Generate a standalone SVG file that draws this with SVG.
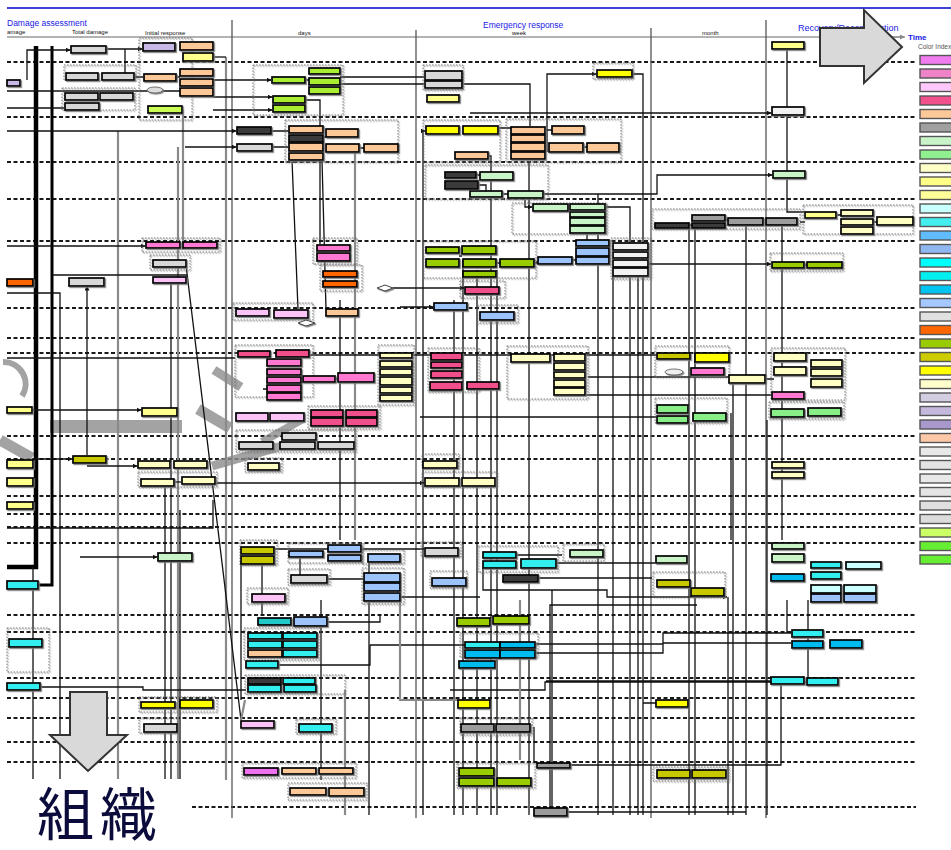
<svg xmlns="http://www.w3.org/2000/svg" width="951" height="850" viewBox="0 0 951 850">
<defs>
<style>
.lane{fill:none;stroke:#1a1a1a;stroke-width:1.8;stroke-dasharray:4 2.5}
.col{stroke:#555;stroke-width:1.3}
.c{fill:none;stroke:#111;stroke-width:1.3}
.g{fill:none;stroke:#8a8a8a;stroke-width:2.2}
.grp{fill:none;stroke:#666;stroke-width:0.9;stroke-dasharray:1.5 1.5}
.nodes rect{stroke:#000;stroke-width:1.7}
.nodes rect.grp{stroke:#666;stroke-width:0.9}
.leg rect{stroke:#555;stroke-width:1.4}
.pk{fill:#ff78d2}.hp{fill:#f0508c}.lp{fill:#fcc4f6}.vi{fill:#ee72ee}
.pc{fill:#fcc898}.ly{fill:#ffff8c}.yl{fill:#ffff00}.cr{fill:#ffffc4}
.oy{fill:#c8c800}.og{fill:#99cc00}.lg{fill:#c8f4c8}.gr{fill:#88ee88}
.lm{fill:#ccff55}.lb{fill:#9cc4fa}.cy{fill:#33eeee}.ds{fill:#00bbee}
.lc{fill:#ccffff}.gy{fill:#d8d8d8}.dg{fill:#9c9c9c}.lv{fill:#c8b8e8}
.or{fill:#ff6600}.dk{fill:#3a3a3a}.wh{fill:#f2f2f2}.gn{fill:#aaee33}
.hd{font-family:"Liberation Sans",Arial,sans-serif;fill:#1a1ae6}
.sub{font-family:"Liberation Sans",Arial,sans-serif;font-size:6px;fill:#111}
.shade{fill:none;stroke:#8c8c8c;stroke-opacity:0.8;stroke-linecap:butt}
</style>
<marker id="ah" markerWidth="5" markerHeight="5" refX="4.5" refY="2.5" orient="auto" markerUnits="userSpaceOnUse">
<path d="M0,0 L5,2.5 L0,5z" fill="#111"/>
</marker>
<filter id="sh" x="-10%" y="-10%" width="130%" height="160%">
<feDropShadow dx="1.2" dy="1.2" stdDeviation="0.3" flood-color="#777" flood-opacity="0.9"/>
</filter>
</defs>
<rect width="951" height="850" fill="#fff"/>

<!-- header -->
<g id="header">
<line x1="7" y1="8" x2="951" y2="8" stroke="#0000cc" stroke-width="1.5"/>
<text class="hd" x="7" y="26" font-size="8.5">Damage assessment</text>
<text class="hd" x="483" y="28" font-size="8.5">Emergency response</text>
<text class="hd" x="798" y="31" font-size="9">Recovery/Reconstruction</text>
<text class="sub" x="7" y="34">amage</text>
<text class="sub" x="72" y="34">Total damage</text>
<text class="sub" x="145" y="35">Initial response</text>
<text class="sub" x="298" y="35">days</text>
<text class="sub" x="512" y="35">week</text>
<text class="sub" x="702" y="35">month</text>
<line x1="7" y1="37" x2="905" y2="37" stroke="#666" stroke-width="1"/>
</g>

<!-- swimlanes -->
<g id="lanes">
<path class="lane" d="M7,62H916M7,117H916M7,162H916M7,199H916M7,241H916M7,308H916M7,338H916M7,353H916M7,436H916M7,459H916M7,496H916M7,514H916M7,527H916M7,543H916M7,615H916M7,632H916M7,678H916M7,698H916M7,718H916M7,742H916M7,762H916M192,807H916"/>
</g>

<!-- period columns -->
<g id="columns">
<line class="col" x1="232" y1="20" x2="232" y2="818"/>
<line class="col" x1="416" y1="30" x2="416" y2="818"/>
<line class="col" x1="651" y1="28" x2="651" y2="818"/>
<line class="col" x1="766" y1="20" x2="766" y2="818"/>
</g>

<!-- faded background loop -->
<g id="backdrop">
<path class="shade" d="M3,362 A22,22 0 0 1 22,396" stroke-width="6" stroke="#b4b4b4"/>
<path class="shade" d="M0,440 L32,458" stroke-width="11"/>
<rect x="50" y="420" width="132" height="13" fill="#8c8c8c" fill-opacity="0.8"/>
<path class="shade" d="M198,409 L230,428" stroke-width="11"/>
<path class="shade" d="M214,370 L241,387" stroke-width="9"/>
<path class="shade" d="M212,466 L282,446" stroke-width="9"/>
<path class="shade" d="M262,442 L303,419" stroke-width="8"/>
</g>

<!-- connectors -->
<g id="connectors">
<path d="M36,46V567H7" fill="none" stroke="#000" stroke-width="4.5"/>
<path d="M52,46V585H38" fill="none" stroke="#000" stroke-width="3"/>
<path class="g" d="M118,131V780M183,110V250M226,57V780M178,147V780M355,150V540"/>
<path class="c" marker-end="url(#ah)" d="M27,80V50H70"/>
<path class="c" marker-end="url(#ah)" d="M106,49H142"/>
<path class="c" d="M125,49V77H134M134,77H143M176,77H180M7,91H180M7,108H64"/>
<path class="c" d="M213,57H226"/>
<path class="c" marker-end="url(#ah)" d="M213,80H271"/>
<path class="c" marker-end="url(#ah)" d="M213,97H272"/>
<path class="c" marker-end="url(#ah)" d="M213,110H272"/>
<path class="c" d="M305,80H309M340,77H424M340,84H424" stroke-width="1.8"/>
<path class="c" d="M305,100H320V244"/>
<path class="c" d="M462,84H530V126"/>
<path class="c" marker-end="url(#ah)" d="M547,152V74H596"/>
<path class="c" d="M632,74H643V815"/>
<path class="c" marker-end="url(#ah)" d="M470,113H771"/>
<path class="c" d="M787,49V107M787,115V212H804"/>
<path class="c" marker-end="url(#ah)" d="M7,131H236"/>
<path class="c" marker-end="url(#ah)" d="M185,147H236"/>
<path class="c" d="M271,131H288M272,147H288M323,137H326M359,148H364"/>
<path class="c" marker-end="url(#ah)" d="M423,815V131H425"/>
<path class="c" d="M488,156H491V815"/>
<path class="c" d="M498,128H511M545,130H552M583,147H587"/>
<path class="c" d="M476,175H480M478,185H486V191M502,194H508"/>
<path class="c" marker-end="url(#ah)" d="M543,194H657V175H772"/>
<path class="c" d="M598,194V204"/>
<path class="c" marker-end="url(#ah)" d="M525,194V207H532"/>
<path class="c" d="M529,162V815"/>
<path class="c" d="M605,207H630V815"/>
<path class="c" d="M587,233V240"/>
<path class="c" d="M536,262H538M572,260H576M459,256H462M496,263H500M534,263H538"/>
<path class="c" marker-end="url(#ah)" d="M648,264H771"/>
<path class="c" d="M804,265H807"/>
<path class="c" marker-end="url(#ah)" d="M393,288H464"/>
<path class="c" marker-end="url(#ah)" d="M400,307H433"/>
<path class="c" d="M689,228V815M746,225V815M782,225V540M695,228V815"/>
<path class="c" d="M800,222H805M836,215H841M873,222H877M725,220H728M689,225H692"/>
<path class="c" marker-end="url(#ah)" d="M7,246H145"/>
<path class="c" d="M52,275H187M7,293H60V780"/>
<path class="c" marker-end="url(#ah)" d="M87,455V286"/>
<path class="c" d="M171,283V780"/>
<path class="c" d="M186,265L241,720M292,160L298,309M322,160L326,309"/>
<path class="c" d="M7,358H235"/>
<path class="c" marker-end="url(#ah)" d="M32,410H141"/>
<path class="c" marker-end="url(#ah)" d="M32,459H72"/>
<path class="c" marker-end="url(#ah)" d="M87,466H137"/>
<path class="c" d="M174,482H181"/>
<path class="c" marker-end="url(#ah)" d="M215,483H424"/>
<path class="c" d="M309,355H657M588,377H728M765,379H774M586,395H771M420,417H656M731,413V540"/>
<path class="c" d="M7,528H213V500M33,567V780M165,487V780M180,510V780"/>
<path class="c" d="M263,389H267M301,379H303M335,379H338"/>
<path class="c" marker-end="url(#ah)" d="M80,557H157"/>
<path class="c" d="M274,549H424" stroke-width="2"/>
<path class="c" d="M327,579H363M400,597H480"/>
<path class="c" marker-end="url(#ah)" d="M483,568V590H607V597H727"/>
<path class="c" d="M516,555H562M556,563H655M538,578H652"/>
<path class="c" d="M370,645V665H278M370,645H466M380,615V622H327"/>
<path class="c" d="M40,687H143V690H246"/>
<path class="c" d="M535,644H663V633H791M535,653H663V643H791M787,600V633"/>
<path class="c" d="M550,815V605H697M450,690H545V682H806M546,681H770M570,765H781V684M567,812H746M534,727V763M643,703H656"/>
<path class="c" d="M369,560V815M454,300V815M463,260V815M477,270V815M497,270V815M552,590V815M598,234V815M613,276V815M638,250V815M728,597V815M733,380V815M767,420V815M808,600V680"/>
<path class="c" d="M241,562V700M262,560V615M300,557V575M321,600V780M340,300V540"/>
<path class="g" d="M245,700L241,720M345,690V815M400,600V700H458M520,600V760"/>
</g>

<!-- nodes -->
<g class="nodes" filter="url(#sh)">
<g id="n-top-left">
<rect class="gy" x="71" y="46" width="35" height="7"/>
<rect class="lv" x="7" y="80" width="13" height="6"/>
<rect class="grp" x="64" y="65" width="72" height="15"/>
<rect class="gy" x="66" y="73" width="32" height="7"/>
<rect class="gy" x="102" y="73" width="32" height="7"/>
<rect class="grp" x="62" y="88" width="73" height="22"/>
<rect class="gy" x="65" y="93" width="33" height="7"/>
<rect class="gy" x="100" y="93" width="33" height="7"/>
<rect class="gy" x="65" y="103" width="34" height="7"/>
</g>
<g id="n-initial">
<rect class="grp" x="139" y="38" width="53" height="82"/>
<rect class="lv" x="143" y="43" width="32" height="8"/>
<rect class="pc" x="180" y="42" width="33" height="8"/>
<rect class="ly" x="183" y="53" width="30" height="8"/>
<rect class="pc" x="144" y="74" width="32" height="7"/>
<rect class="pc" x="180" y="69" width="33" height="7"/>
<rect class="pc" x="180" y="79" width="33" height="7"/>
<rect class="pc" x="180" y="88" width="33" height="8"/>
<ellipse cx="155" cy="90" rx="8" ry="3" fill="#ddd" stroke="#555" stroke-width="0.8"/>
<rect class="lm" x="148" y="106" width="34" height="7"/>
</g>
<g id="n-days-top">
<rect class="grp" x="253" y="65" width="90" height="50"/>
<rect class="gn" x="272" y="77" width="33" height="6"/>
<rect class="gn" x="309" y="68" width="31" height="6"/>
<rect class="gn" x="309" y="78" width="31" height="7"/>
<rect class="gn" x="309" y="87" width="31" height="7"/>
<rect class="gn" x="273" y="96" width="32" height="7"/>
<rect class="gn" x="273" y="105" width="32" height="7"/>
</g>
<g id="n-week-top">
<rect class="grp" x="423" y="65" width="40" height="25"/>
<rect class="gy" x="425" y="71" width="37" height="9"/>
<rect class="gy" x="425" y="81" width="37" height="7"/>
<rect class="ly" x="427" y="95" width="32" height="7"/>
<rect class="grp" x="593" y="63" width="40" height="16"/>
<rect class="yl" x="597" y="70" width="35" height="7"/>
<rect class="ly" x="772" y="42" width="32" height="7"/>
<rect class="wh" x="772" y="107" width="32" height="8"/>
</g>
<g id="n-lane2">
<rect class="dk" x="237" y="127" width="34" height="7"/>
<rect class="gy" x="237" y="144" width="35" height="7"/>
<rect class="grp" x="285" y="120" width="113" height="42"/>
<rect class="pc" x="289" y="126" width="34" height="7"/>
<rect class="dk" x="289" y="135" width="34" height="7"/>
<rect class="pc" x="289" y="143" width="34" height="8"/>
<rect class="pc" x="289" y="153" width="34" height="7"/>
<rect class="pc" x="326" y="129" width="32" height="8"/>
<rect class="pc" x="326" y="144" width="33" height="8"/>
<rect class="pc" x="364" y="144" width="34" height="8"/>
<rect class="grp" x="423" y="120" width="77" height="42"/>
<rect class="yl" x="426" y="126" width="33" height="8"/>
<rect class="yl" x="463" y="126" width="35" height="8"/>
<rect class="pc" x="455" y="152" width="33" height="7"/>
<rect class="grp" x="506" y="119" width="115" height="43"/>
<rect class="pc" x="511" y="127" width="34" height="7"/>
<rect class="pc" x="511" y="135" width="34" height="7"/>
<rect class="pc" x="511" y="143" width="34" height="8"/>
<rect class="pc" x="511" y="152" width="34" height="7"/>
<rect class="pc" x="552" y="126" width="32" height="8"/>
<rect class="pc" x="549" y="143" width="34" height="9"/>
<rect class="pc" x="587" y="143" width="32" height="9"/>
</g>
<g id="n-lane3">
<rect class="grp" x="425" y="165" width="123" height="34"/>
<rect class="dk" x="445" y="172" width="31" height="6"/>
<rect class="lg" x="480" y="172" width="33" height="8"/>
<rect class="dk" x="445" y="181" width="33" height="8"/>
<rect class="lg" x="470" y="191" width="32" height="6"/>
<rect class="lg" x="508" y="191" width="35" height="7"/>
<rect class="lg" x="773" y="171" width="32" height="7"/>
</g>
<g id="n-lane4">
<rect class="grp" x="512" y="203" width="95" height="31"/>
<rect class="lg" x="533" y="204" width="35" height="7"/>
<rect class="lg" x="570" y="204" width="35" height="6"/>
<rect class="lg" x="570" y="212" width="35" height="5"/>
<rect class="lg" x="570" y="218" width="35" height="7"/>
<rect class="lg" x="570" y="226" width="35" height="7"/>
<rect class="grp" x="652" y="209" width="148" height="20"/>
<rect class="dk" x="655" y="223" width="34" height="5"/>
<rect class="dg" x="692" y="215" width="33" height="6"/>
<rect class="dk" x="692" y="223" width="33" height="5"/>
<rect class="dg" x="728" y="218" width="35" height="7"/>
<rect class="dg" x="766" y="218" width="31" height="7"/>
<rect class="grp" x="803" y="205" width="110" height="29"/>
<rect class="ly" x="805" y="212" width="31" height="6"/>
<rect class="cr" x="841" y="210" width="32" height="6"/>
<rect class="cr" x="841" y="219" width="32" height="6"/>
<rect class="cr" x="841" y="227" width="32" height="7"/>
<rect class="cr" x="877" y="217" width="36" height="8"/>
</g>
<g id="n-lane5">
<rect class="grp" x="142" y="238" width="78" height="14"/>
<rect class="pk" x="146" y="242" width="34" height="6"/>
<rect class="pk" x="183" y="242" width="34" height="6"/>
<rect class="grp" x="150" y="255" width="40" height="15"/>
<rect class="gy" x="153" y="260" width="33" height="7"/>
<rect class="lp" x="153" y="277" width="33" height="6"/>
<rect class="gy" x="69" y="278" width="35" height="8"/>
<rect class="or" x="7" y="279" width="26" height="7"/>
<rect class="grp" x="313" y="238" width="44" height="26"/>
<rect class="pk" x="317" y="245" width="33" height="6"/>
<rect class="pk" x="317" y="253" width="33" height="8"/>
<rect class="grp" x="320" y="265" width="42" height="26"/>
<rect class="or" x="323" y="271" width="34" height="6"/>
<rect class="or" x="323" y="281" width="34" height="6"/>
<path d="M377,288L385,285L393,288L385,291Z" fill="#fff" stroke="#444" stroke-width="1"/>
<rect class="grp" x="423" y="241" width="113" height="37"/>
<rect class="og" x="426" y="247" width="33" height="6"/>
<rect class="og" x="462" y="246" width="34" height="8"/>
<rect class="og" x="426" y="259" width="33" height="8"/>
<rect class="og" x="463" y="259" width="33" height="8"/>
<rect class="og" x="463" y="271" width="33" height="6"/>
<rect class="og" x="500" y="259" width="34" height="8"/>
<rect class="lb" x="538" y="257" width="34" height="7"/>
<rect class="lb" x="576" y="240" width="33" height="6"/>
<rect class="lb" x="576" y="248" width="33" height="8"/>
<rect class="lb" x="576" y="257" width="33" height="7"/>
<rect class="grp" x="611" y="238" width="40" height="41"/>
<rect class="wh" x="613" y="243" width="35" height="7"/>
<rect class="wh" x="613" y="252" width="35" height="6"/>
<rect class="wh" x="613" y="260" width="35" height="7"/>
<rect class="wh" x="613" y="268" width="35" height="8"/>
<rect class="grp" x="770" y="253" width="73" height="18"/>
<rect class="og" x="772" y="262" width="32" height="6"/>
<rect class="og" x="807" y="262" width="35" height="6"/>
<rect class="grp" x="460" y="281" width="45" height="17"/>
<rect class="hp" x="465" y="287" width="34" height="7"/>
<rect class="lb" x="434" y="303" width="33" height="7"/>
<rect class="grp" x="477" y="305" width="41" height="18"/>
<rect class="lb" x="480" y="312" width="34" height="8"/>
</g>
<g id="n-lane6">
<rect class="grp" x="233" y="303" width="80" height="17"/>
<rect class="lp" x="236" y="309" width="33" height="7"/>
<rect class="lp" x="274" y="310" width="34" height="8"/>
<rect class="pc" x="326" y="309" width="32" height="7"/>
<path d="M298,323L306,320L315,323L306,326Z" fill="#fff" stroke="#444" stroke-width="1"/>
</g>
<g id="n-lane8">
<rect class="grp" x="235" y="345" width="78" height="52"/>
<rect class="hp" x="238" y="351" width="32" height="6"/>
<rect class="hp" x="276" y="350" width="33" height="7"/>
<rect class="pk" x="267" y="359" width="34" height="7"/>
<rect class="pk" x="267" y="369" width="34" height="6"/>
<rect class="pk" x="267" y="377" width="34" height="6"/>
<rect class="pk" x="267" y="385" width="34" height="7"/>
<rect class="pk" x="267" y="393" width="34" height="7"/>
<rect class="pk" x="303" y="376" width="32" height="6"/>
<rect class="pk" x="338" y="373" width="36" height="9"/>
<rect class="grp" x="378" y="345" width="36" height="60"/>
<rect class="cr" x="380" y="353" width="32" height="5"/>
<rect class="cr" x="380" y="361" width="32" height="6"/>
<rect class="cr" x="380" y="369" width="32" height="6"/>
<rect class="cr" x="380" y="377" width="32" height="8"/>
<rect class="cr" x="380" y="387" width="32" height="6"/>
<rect class="cr" x="380" y="395" width="32" height="6"/>
<rect class="grp" x="428" y="348" width="51" height="44"/>
<rect class="hp" x="431" y="353" width="31" height="7"/>
<rect class="hp" x="431" y="362" width="31" height="6"/>
<rect class="hp" x="431" y="371" width="31" height="7"/>
<rect class="hp" x="430" y="382" width="32" height="8"/>
<rect class="hp" x="467" y="382" width="32" height="7"/>
<rect class="grp" x="507" y="346" width="81" height="53"/>
<rect class="cr" x="511" y="354" width="39" height="8"/>
<rect class="cr" x="554" y="354" width="31" height="7"/>
<rect class="cr" x="554" y="363" width="31" height="7"/>
<rect class="cr" x="554" y="372" width="31" height="6"/>
<rect class="cr" x="554" y="380" width="31" height="7"/>
<rect class="cr" x="554" y="388" width="31" height="7"/>
<rect class="grp" x="655" y="346" width="74" height="31"/>
<rect class="oy" x="657" y="353" width="33" height="6"/>
<rect class="yl" x="695" y="353" width="34" height="9"/>
<ellipse cx="674" cy="372" rx="9" ry="3" fill="#eee" stroke="#555" stroke-width="0.8"/>
<rect class="pk" x="691" y="368" width="33" height="7"/>
<rect class="cr" x="729" y="375" width="36" height="8"/>
<rect class="grp" x="771" y="348" width="74" height="52"/>
<rect class="cr" x="774" y="353" width="32" height="8"/>
<rect class="cr" x="811" y="360" width="31" height="7"/>
<rect class="cr" x="774" y="367" width="32" height="8"/>
<rect class="cr" x="811" y="369" width="31" height="7"/>
<rect class="cr" x="811" y="379" width="31" height="8"/>
<rect class="pk" x="772" y="392" width="32" height="7"/>
<rect class="grp" x="655" y="398" width="72" height="25"/>
<rect class="gr" x="657" y="405" width="31" height="8"/>
<rect class="gr" x="657" y="416" width="31" height="7"/>
<rect class="gr" x="693" y="413" width="33" height="8"/>
<rect class="grp" x="769" y="402" width="75" height="17"/>
<rect class="gr" x="771" y="409" width="33" height="8"/>
<rect class="gr" x="808" y="408" width="33" height="8"/>
<rect class="grp" x="308" y="406" width="72" height="23"/>
<rect class="hp" x="311" y="410" width="32" height="7"/>
<rect class="hp" x="311" y="418" width="32" height="8"/>
<rect class="hp" x="346" y="410" width="31" height="7"/>
<rect class="hp" x="346" y="418" width="31" height="8"/>
<rect class="lp" x="236" y="413" width="32" height="8"/>
<rect class="lp" x="270" y="413" width="34" height="8"/>
<rect class="ly" x="7" y="407" width="25" height="6"/>
<rect class="ly" x="142" y="408" width="35" height="8"/>
<rect class="grp" x="236" y="430" width="120" height="22"/>
<rect class="gy" x="239" y="442" width="34" height="7"/>
<rect class="gy" x="280" y="442" width="35" height="7"/>
<rect class="gy" x="282" y="433" width="34" height="7"/>
<rect class="gy" x="318" y="442" width="36" height="7"/>
</g>
<g id="n-lane10">
<rect class="grp" x="245" y="458" width="37" height="14"/>
<rect class="cr" x="248" y="463" width="31" height="7"/>
<rect class="oy" x="73" y="456" width="33" height="7"/>
<rect class="ly" x="7" y="460" width="26" height="8"/>
<rect class="ly" x="7" y="478" width="26" height="8"/>
<rect class="ly" x="7" y="502" width="26" height="7"/>
<rect class="cr" x="138" y="461" width="32" height="7"/>
<rect class="cr" x="174" y="461" width="33" height="7"/>
<rect class="grp" x="138" y="472" width="79" height="15"/>
<rect class="cr" x="141" y="479" width="33" height="7"/>
<rect class="cr" x="182" y="477" width="33" height="7"/>
<rect class="grp" x="422" y="454" width="37" height="14"/>
<rect class="cr" x="423" y="461" width="34" height="7"/>
<rect class="grp" x="422" y="472" width="75" height="15"/>
<rect class="cr" x="425" y="478" width="34" height="8"/>
<rect class="cr" x="462" y="478" width="33" height="8"/>
<rect class="cr" x="772" y="462" width="32" height="6"/>
<rect class="cr" x="772" y="472" width="32" height="6"/>
</g>
<g id="n-lane14">
<rect class="lg" x="158" y="553" width="34" height="8"/>
<rect class="grp" x="240" y="540" width="37" height="25"/>
<rect class="oy" x="241" y="547" width="33" height="7"/>
<rect class="oy" x="241" y="556" width="33" height="8"/>
<rect class="grp" x="288" y="543" width="75" height="20"/>
<rect class="lb" x="289" y="551" width="34" height="6"/>
<rect class="lb" x="328" y="545" width="33" height="7"/>
<rect class="lb" x="328" y="555" width="33" height="6"/>
<rect class="grp" x="362" y="550" width="42" height="14"/>
<rect class="lb" x="368" y="554" width="32" height="8"/>
<rect class="grp" x="421" y="542" width="40" height="15"/>
<rect class="gy" x="425" y="548" width="33" height="8"/>
<rect class="grp" x="288" y="569" width="42" height="16"/>
<rect class="gy" x="291" y="575" width="36" height="8"/>
<rect class="grp" x="362" y="568" width="42" height="36"/>
<rect class="lb" x="364" y="573" width="36" height="9"/>
<rect class="lb" x="364" y="583" width="36" height="8"/>
<rect class="lb" x="364" y="593" width="36" height="8"/>
<rect class="grp" x="430" y="571" width="37" height="17"/>
<rect class="lb" x="432" y="578" width="34" height="8"/>
<rect class="cy" x="7" y="581" width="31" height="8"/>
<rect class="grp" x="247" y="588" width="41" height="16"/>
<rect class="lp" x="252" y="594" width="33" height="8"/>
<rect class="grp" x="478" y="546" width="80" height="26"/>
<rect class="cy" x="483" y="552" width="33" height="6"/>
<rect class="cy" x="483" y="561" width="33" height="7"/>
<rect class="cy" x="521" y="559" width="35" height="9"/>
<rect class="grp" x="563" y="544" width="41" height="17"/>
<rect class="lg" x="570" y="550" width="33" height="7"/>
<rect class="lg" x="656" y="556" width="31" height="7"/>
<rect class="dk" x="503" y="575" width="35" height="7"/>
<rect class="grp" x="653" y="572" width="72" height="25"/>
<rect class="oy" x="657" y="580" width="33" height="7"/>
<rect class="oy" x="691" y="588" width="33" height="8"/>
<rect class="lg" x="772" y="543" width="32" height="6"/>
<rect class="lg" x="772" y="554" width="32" height="8"/>
<rect class="cy" x="811" y="562" width="30" height="6"/>
<rect class="lc" x="846" y="562" width="35" height="7"/>
<rect class="ds" x="771" y="574" width="33" height="7"/>
<rect class="cy" x="811" y="572" width="30" height="7"/>
<rect class="lc" x="811" y="585" width="30" height="8"/>
<rect class="lc" x="844" y="585" width="32" height="8"/>
<rect class="lb" x="811" y="594" width="30" height="8"/>
<rect class="lb" x="844" y="594" width="32" height="8"/>
</g>
<g id="n-lane16">
<rect class="cy" x="258" y="618" width="33" height="7" style="fill:#22c8c8"/>
<rect class="lb" x="294" y="617" width="33" height="9"/>
<rect class="og" x="457" y="618" width="33" height="8"/>
<rect class="og" x="493" y="616" width="36" height="8"/>
<rect class="grp" x="244" y="628" width="76" height="32"/>
<rect class="cy" x="248" y="633" width="34" height="6"/>
<rect class="cy" x="248" y="641" width="34" height="7"/>
<rect class="pc" x="248" y="650" width="34" height="7"/>
<rect class="cy" x="283" y="633" width="34" height="6"/>
<rect class="cy" x="283" y="641" width="34" height="7"/>
<rect class="cy" x="283" y="650" width="34" height="7"/>
<rect class="cy" x="246" y="661" width="32" height="7"/>
<rect class="grp" x="7" y="628" width="42" height="44"/>
<rect class="cy" x="9" y="639" width="33" height="8"/>
<rect class="grp" x="460" y="633" width="78" height="24"/>
<rect class="cy" x="465" y="642" width="35" height="6"/>
<rect class="ds" x="500" y="642" width="35" height="6"/>
<rect class="ds" x="465" y="650" width="35" height="8"/>
<rect class="ds" x="500" y="650" width="35" height="8"/>
<rect class="ds" x="459" y="661" width="36" height="7"/>
<rect class="cy" x="792" y="630" width="31" height="7"/>
<rect class="ds" x="792" y="641" width="31" height="7"/>
<rect class="ds" x="830" y="640" width="32" height="8"/>
<rect class="cy" x="771" y="677" width="33" height="7"/>
<rect class="cy" x="807" y="678" width="31" height="7"/>
<rect class="grp" x="245" y="675" width="100" height="19"/>
<rect class="dk" x="248" y="678" width="33" height="6"/>
<rect class="cy" x="283" y="678" width="32" height="6"/>
<rect class="cy" x="248" y="685" width="33" height="7"/>
<rect class="cy" x="284" y="685" width="32" height="7"/>
<rect class="cy" x="7" y="683" width="33" height="7"/>
</g>
<g id="n-lane19">
<rect class="grp" x="139" y="697" width="78" height="15"/>
<rect class="yl" x="141" y="702" width="34" height="6"/>
<rect class="yl" x="180" y="700" width="33" height="8"/>
<rect class="grp" x="139" y="718" width="39" height="15"/>
<rect class="gy" x="144" y="724" width="33" height="8"/>
<rect class="yl" x="458" y="700" width="32" height="8"/>
<rect class="yl" x="656" y="700" width="32" height="7"/>
<rect class="lp" x="241" y="721" width="33" height="7"/>
<rect class="grp" x="296" y="719" width="40" height="15"/>
<rect class="cy" x="299" y="724" width="33" height="8"/>
<rect class="grp" x="460" y="718" width="72" height="17"/>
<rect class="dg" x="461" y="724" width="33" height="8"/>
<rect class="dg" x="496" y="724" width="34" height="8"/>
<rect class="dg" x="537" y="763" width="33" height="5"/>
<rect class="grp" x="242" y="763" width="114" height="15"/>
<rect class="vi" x="244" y="768" width="34" height="7"/>
<rect class="pc" x="282" y="768" width="34" height="6"/>
<rect class="pc" x="319" y="768" width="34" height="6"/>
<rect class="grp" x="288" y="783" width="79" height="17"/>
<rect class="pc" x="290" y="788" width="36" height="7"/>
<rect class="pc" x="329" y="788" width="35" height="8"/>
<rect class="grp" x="457" y="763" width="78" height="25"/>
<rect class="og" x="459" y="768" width="35" height="8"/>
<rect class="og" x="459" y="778" width="35" height="8"/>
<rect class="og" x="497" y="778" width="34" height="8"/>
<rect class="grp" x="653" y="767" width="76" height="14"/>
<rect class="oy" x="657" y="770" width="33" height="8"/>
<rect class="oy" x="692" y="770" width="34" height="8"/>
<rect class="dg" x="534" y="808" width="33" height="8"/>
</g>
</g>

<!-- colour index -->
<g id="color-index" class="leg">
<text x="918" y="49" font-family="'Liberation Sans',Arial,sans-serif" font-size="6.5" fill="#555">Color Index</text>
<rect x="920" y="55.5" width="40" height="9" fill="#f07cf0"/>
<rect x="920" y="69" width="40" height="9" fill="#f083c8"/>
<rect x="920" y="82.5" width="40" height="9" fill="#ffc8fa"/>
<rect x="920" y="96" width="40" height="9" fill="#f0508c"/>
<rect x="920" y="109.5" width="40" height="9" fill="#fcc898"/>
<rect x="920" y="123" width="40" height="9" fill="#a0a0a0"/>
<rect x="920" y="136.5" width="40" height="9" fill="#c8f4c8"/>
<rect x="920" y="150" width="40" height="9" fill="#90f090"/>
<rect x="920" y="163.5" width="40" height="9" fill="#ffffc8"/>
<rect x="920" y="177" width="40" height="9" fill="#ffff88"/>
<rect x="920" y="190.5" width="40" height="9" fill="#ffff99"/>
<rect x="920" y="204" width="40" height="9" fill="#c8ffff"/>
<rect x="920" y="217.5" width="40" height="9" fill="#44eeee"/>
<rect x="920" y="231" width="40" height="9" fill="#60bcff"/>
<rect x="920" y="244.5" width="40" height="9" fill="#90b8f0"/>
<rect x="920" y="258" width="40" height="9" fill="#00ffff"/>
<rect x="920" y="271.5" width="40" height="9" fill="#00f0f0"/>
<rect x="920" y="285" width="40" height="9" fill="#00c4f0"/>
<rect x="920" y="298.5" width="40" height="9" fill="#a4c8ff"/>
<rect x="920" y="312" width="40" height="9" fill="#e0e0e0"/>
<rect x="920" y="325.5" width="40" height="9" fill="#ff6600"/>
<rect x="920" y="339" width="40" height="9" fill="#99cc00"/>
<rect x="920" y="352.5" width="40" height="9" fill="#cccc00"/>
<rect x="920" y="366" width="40" height="9" fill="#ffff00"/>
<rect x="920" y="379.5" width="40" height="9" fill="#ffffcc"/>
<rect x="920" y="393" width="40" height="9" fill="#d4cce0"/>
<rect x="920" y="406.5" width="40" height="9" fill="#c4b8dc"/>
<rect x="920" y="420" width="40" height="9" fill="#a898cc"/>
<rect x="920" y="433.5" width="40" height="9" fill="#fcc8a8"/>
<rect x="920" y="447" width="40" height="9" fill="#e8e8e8"/>
<rect x="920" y="460.5" width="40" height="9" fill="#e4e4e4"/>
<rect x="920" y="474" width="40" height="9" fill="#e8e8e8"/>
<rect x="920" y="487.5" width="40" height="9" fill="#e4e4e4"/>
<rect x="920" y="501" width="40" height="9" fill="#e0e0e0"/>
<rect x="920" y="514.5" width="40" height="9" fill="#dcdcdc"/>
<rect x="920" y="528" width="40" height="9" fill="#ccff66"/>
<rect x="920" y="541.5" width="40" height="9" fill="#66ee33"/>
<rect x="920" y="555" width="40" height="9" fill="#66ee33"/>
</g>

<!-- axis arrows and labels -->
<g id="time-axis">
<line x1="890" y1="37" x2="904" y2="37" stroke="#888" stroke-width="1"/>
<path d="M900,34.5L905,37L900,39.5Z" fill="#888"/>
<text x="908" y="40" font-family="'Liberation Sans',Arial,sans-serif" font-size="8" font-weight="bold" fill="#1a1ae6">Time</text>
<path d="M820,28H864V10L902,47L864,83V66H820Z" fill="#d9d9d9" stroke="#333" stroke-width="2" stroke-linejoin="miter"/>
</g>
<g id="org-axis">
<rect x="7" y="779" width="185" height="71" fill="#fff"/>
<path d="M70,692H107V735H127L88,771L50,735H70Z" fill="#d9d9d9" stroke="#333" stroke-width="2"/>
<text x="37" y="835" font-family="'Noto Sans CJK JP','Noto Sans CJK SC',sans-serif" font-size="57" letter-spacing="6" fill="#0b0b3c">組織</text>
</g>
</svg>
